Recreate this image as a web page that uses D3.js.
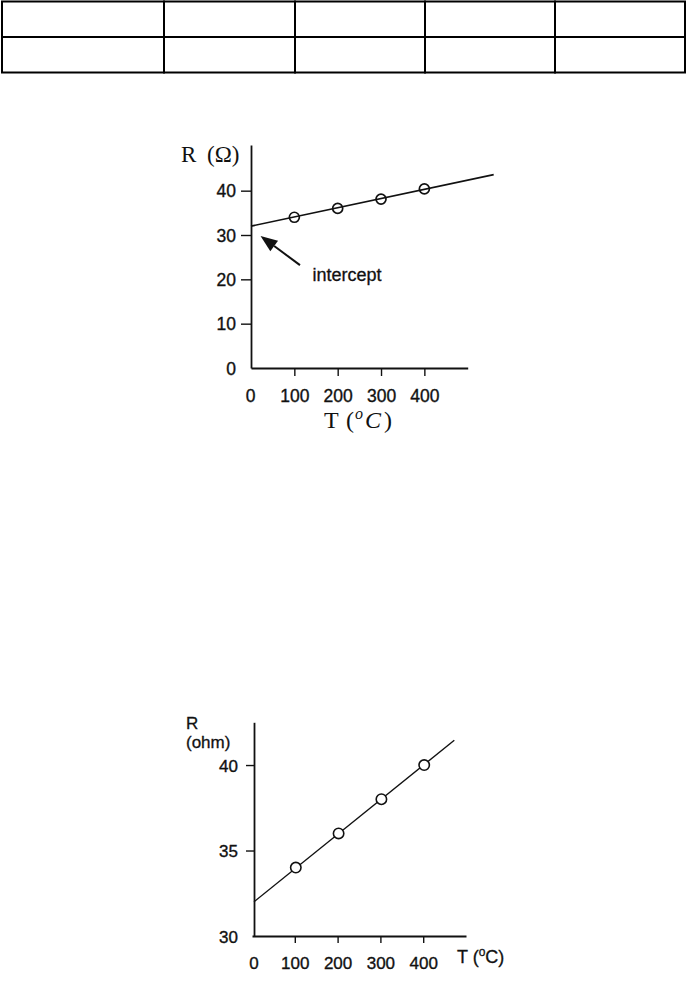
<!DOCTYPE html>
<html>
<head>
<meta charset="utf-8">
<script src="https://cdn.jsdelivr.net/npm/d3@7"></script>
<style>
  html, body { margin: 0; padding: 0; background: #fff; }
  svg { display: block; }
</style>
</head>
<body>
<div id="chart"></div>
<script>
// ---------------- DATA ----------------
const tableRows = [
  ["", "", "", "", ""],
  ["", "", "", "", ""]
];

// Chart 1: R (Ω) vs T (°C), full scale with intercept annotation
const temps1 = [100, 200, 300, 400];
const resist1 = [34, 36, 38.1, 40.4];
const fitT1 = [0, 560];
const fitR1 = [32, 43.6];
const xTickVals1 = [0, 100, 200, 300, 400];
const yTickVals1 = [0, 10, 20, 30, 40];
const annotText1 = "intercept";

// Chart 2: R (ohm) vs T (°C), zoomed axis
const temps2 = [100, 200, 300, 400];
const resist2 = [34, 36, 38, 40];
const fitT2 = [0, 468];
const fitR2 = [32, 41.45];
const xTickVals2 = [0, 100, 200, 300, 400];
const yTickVals2 = [30, 35, 40];

// ---------------- LAYOUT ----------------
const W = 686, H = 986;
const SANS = "'Liberation Sans', Arial, Helvetica, sans-serif";
const SERIF = "'Liberation Serif', 'Times New Roman', serif";
const INK = "#111";

const svg = d3.select("#chart").append("svg")
  .attr("width", W).attr("height", H)
  .attr("viewBox", `0 0 ${W} ${H}`);
svg.append("rect").attr("width", W).attr("height", H).attr("fill", "#fff");

// ---------- Table ----------
const colWeights = [162, 131, 130, 130, 130];
const tableX = d3.scaleLinear().domain([0, d3.sum(colWeights)]).range([2, 685]);
const colEdges = [0, ...Array.from(d3.cumsum(colWeights))];
const tableY = d3.scaleLinear().domain([0, tableRows.length]).range([1.5, 72.5]);
const tg = svg.append("g").attr("class", "table");
tableRows.forEach((row, ri) => {
  row.forEach((cell, ci) => {
    const xa = tableX(colEdges[ci]), xb = tableX(colEdges[ci + 1]);
    tg.append("rect")
      .attr("x", xa).attr("y", tableY(ri))
      .attr("width", xb - xa)
      .attr("height", tableY(ri + 1) - tableY(ri))
      .attr("fill", "none").attr("stroke", "#000").attr("stroke-width", 2);
    tg.append("text")
      .attr("x", (xa + xb) / 2)
      .attr("y", (tableY(ri) + tableY(ri + 1)) / 2)
      .attr("text-anchor", "middle").attr("dominant-baseline", "central")
      .attr("font-family", SANS).attr("font-size", 14)
      .text(cell);
  });
});

function styleAxis(g, size) {
  g.attr("font-family", SANS).attr("font-size", size);
  g.selectAll("path.domain").attr("stroke", INK).attr("stroke-width", 1.8);
  g.selectAll(".tick line").attr("stroke", INK).attr("stroke-width", 1.4);
  g.selectAll(".tick text").attr("fill", INK).attr("stroke", INK).attr("stroke-width", 0.35);
}

// ---------- Chart 1 ----------
const x1 = d3.scaleLinear().domain([0, 500]).range([251, 467.7]);
const y1 = d3.scaleLinear().domain([0, 50.3]).range([368, 145]);
const c1 = svg.append("g").attr("class", "chart1");

const xa1 = c1.append("g").attr("transform", `translate(0,${y1(0)})`)
  .call(d3.axisBottom(x1).tickValues(xTickVals1).tickSize(8).tickSizeOuter(0)
    .tickPadding(14).tickFormat(d3.format("d")));
styleAxis(xa1, 17.5);
xa1.selectAll(".tick").filter(d => d === 0).select("line").remove();

const ya1 = c1.append("g").attr("transform", `translate(${x1(0)},0)`)
  .call(d3.axisLeft(y1).tickValues(yTickVals1).tickSize(10).tickSizeOuter(0)
    .tickPadding(5).tickFormat(d3.format("d")));
styleAxis(ya1, 17.5);
ya1.selectAll(".tick").filter(d => d === 0).select("line").remove();
ya1.selectAll(".tick text").attr("dy", "0.36em");
xa1.selectAll(".tick").filter(d => d === 0).select("text").attr("dx", "-1");

// fit line
const line1 = d3.line().x(d => x1(d[0])).y(d => y1(d[1]));
c1.append("path").datum(d3.zip(fitT1, fitR1)).attr("d", line1)
  .attr("fill", "none").attr("stroke", INK).attr("stroke-width", 1.7);

// points
c1.selectAll("circle.pt").data(d3.zip(temps1, resist1)).join("circle")
  .attr("class", "pt").attr("cx", d => x1(d[0])).attr("cy", d => y1(d[1]))
  .attr("r", 5).attr("fill", "none").attr("stroke", INK).attr("stroke-width", 1.7);

// arrow annotation (in data units)
const arrowTip = [22, 29.8], arrowTail = [113, 23.2];
const tx = x1(arrowTip[0]), ty = y1(arrowTip[1]);
const sx = x1(arrowTail[0]), sy = y1(arrowTail[1]);
const ang = Math.atan2(ty - sy, tx - sx);
const headLen = 17, headHalf = 6.5;
const bx = tx - headLen * Math.cos(ang), by = ty - headLen * Math.sin(ang);
c1.append("line").attr("x1", sx).attr("y1", sy).attr("x2", bx).attr("y2", by)
  .attr("stroke", INK).attr("stroke-width", 2);
c1.append("path")
  .attr("d", `M${tx},${ty}L${bx + headHalf * Math.sin(ang)},${by - headHalf * Math.cos(ang)}L${bx - headHalf * Math.sin(ang)},${by + headHalf * Math.cos(ang)}Z`)
  .attr("fill", INK);
c1.append("text").attr("x", x1(142)).attr("y", y1(19.6))
  .attr("font-family", SANS).attr("font-size", 18).attr("fill", INK)
  .attr("stroke", INK).attr("stroke-width", 0.3)
  .text(annotText1);

// axis titles (serif, LaTeX-like)
const rt1 = c1.append("text").attr("y", 162).attr("font-family", SERIF)
  .attr("font-size", 23).attr("fill", INK);
rt1.append("tspan").attr("x", 181).text("R");
rt1.append("tspan").attr("x", 207).text("(Ω)");

const tt1 = c1.append("text").attr("y", 428).attr("font-family", SERIF)
  .attr("font-size", 24).attr("fill", INK);
tt1.append("tspan").attr("x", 324).text("T");
tt1.append("tspan").attr("x", 346).text("(");
tt1.append("tspan").attr("x", 355).attr("font-style", "italic").attr("font-size", 16).attr("dy", -9).text("o");
tt1.append("tspan").attr("x", 365).attr("font-style", "italic").attr("dy", 9).text("C");
tt1.append("tspan").attr("x", 384).text(")");

// ---------- Chart 2 ----------
const x2 = d3.scaleLinear().domain([0, 500]).range([252, 466]);
const y2 = d3.scaleLinear().domain([30, 42.5]).range([936, 722.3]);
const c2 = svg.append("g").attr("class", "chart2");

const xa2 = c2.append("g").attr("transform", `translate(0,${y2(30)})`)
  .call(d3.axisBottom(x2).tickValues(xTickVals2).tickSize(7).tickSizeOuter(0)
    .tickPadding(14).tickFormat(d3.format("d")));
styleAxis(xa2, 17);
xa2.selectAll(".tick").filter(d => d === 0).select("line").remove();
xa2.selectAll(".tick").filter(d => d === 0).attr("transform", `translate(${x2(0) + 2},0)`);

const ya2 = c2.append("g").attr("transform", `translate(${x2(0) + 2},0)`)
  .call(d3.axisLeft(y2).tickValues(yTickVals2).tickSize(8).tickSizeOuter(0)
    .tickPadding(8).tickFormat(d3.format("d")));
styleAxis(ya2, 17);
ya2.selectAll(".tick").filter(d => d === 30).select("line").remove();
ya2.selectAll(".tick text").attr("dy", "0.36em");

const line2 = d3.line().x(d => x2(d[0]) + 2).y(d => y2(d[1]));
c2.append("path").datum(d3.zip(fitT2, fitR2)).attr("d", line2)
  .attr("fill", "none").attr("stroke", INK).attr("stroke-width", 1.4);

c2.selectAll("circle.pt").data(d3.zip(temps2, resist2)).join("circle")
  .attr("class", "pt").attr("cx", d => x2(d[0]) + 1).attr("cy", d => y2(d[1]))
  .attr("r", 5.2).attr("fill", "#fff").attr("stroke", INK).attr("stroke-width", 1.6);

c2.append("text").attr("x", 186).attr("y", 729)
  .attr("font-family", SANS).attr("font-size", 17).attr("fill", INK)
  .attr("stroke", INK).attr("stroke-width", 0.3).text("R");
c2.append("text").attr("x", 186).attr("y", 748)
  .attr("font-family", SANS).attr("font-size", 17).attr("fill", INK)
  .attr("stroke", INK).attr("stroke-width", 0.3).text("(ohm)");

const tt2 = c2.append("text").attr("x", 457).attr("y", 963)
  .attr("font-family", SANS).attr("font-size", 18).attr("fill", INK)
  .attr("stroke", INK).attr("stroke-width", 0.3);
tt2.append("tspan").text("T (");
tt2.append("tspan").attr("font-size", 12).attr("dy", -7).text("o");
tt2.append("tspan").attr("dy", 7).text("C)");
</script>
</body>
</html>
